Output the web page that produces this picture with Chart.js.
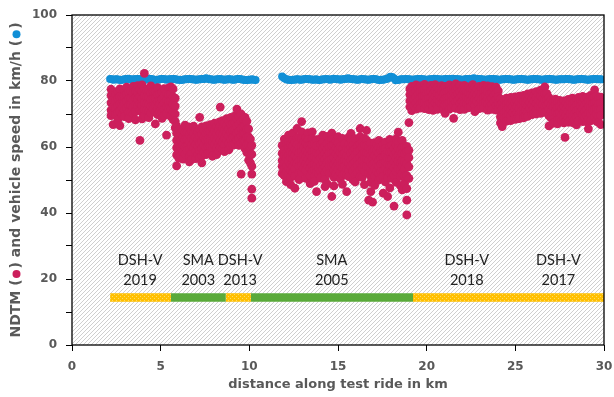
<!DOCTYPE html>
<html>
<head>
<meta charset="utf-8">
<script src="https://cdn.jsdelivr.net/npm/chart.js@4.4.0/dist/chart.umd.min.js"></script>
<style>
  html, body { margin: 0; padding: 0; background: #fff; }
  #wrap { width: 614px; height: 397px; }
</style>
</head>
<body>
<div id="wrap"><canvas id="ndtmChart" width="614" height="397"></canvas></div>
<script>
// NDTM readings along the ride: each row is [km, values measured around that km]
const ndtm2019 = [
    [2.20, 77.5, 75.6, 73.4, 71.2, 69.5], [2.32, 76.4, 74.3, 72.1, 70.2, 66.8], [2.45, 76.0, 73.8, 71.6, 69.8],
    [2.58, 76.9, 74.7, 72.5, 70.4, 68.2], [2.70, 77.6, 75.2, 73.0, 70.9, 66.5], [2.83, 75.2, 73.0, 71.9, 69.7],
    [2.95, 77.3, 75.4, 73.3, 71.1, 69.2], [3.08, 78.1, 76.0, 73.9, 71.8], [3.20, 76.7, 74.6, 72.6, 70.5, 68.6],
    [3.33, 76.9, 74.7, 72.6, 70.4], [3.45, 78.4, 76.3, 74.2, 72.0, 70.1], [3.58, 77.0, 74.9, 72.8, 70.7, 68.2],
    [3.70, 78.6, 76.5, 74.4, 72.3], [3.83, 77.4, 75.3, 73.2, 71.0, 62.0], [3.95, 78.8, 76.8, 74.7, 72.6, 70.6, 68.5],
    [4.08, 82.3, 77.7, 75.5, 73.4, 71.3, 69.4], [4.20, 77.3, 75.2, 73.1, 71.0], [4.33, 77.2, 75.0, 72.9, 70.8, 68.9],
    [4.45, 78.5, 76.4, 74.3, 72.2, 70.3], [4.58, 76.8, 74.6, 72.5, 71.4], [4.70, 76.9, 74.8, 72.7, 70.6, 67.0],
    [4.83, 78.0, 75.9, 73.8, 71.7, 69.8], [4.95, 76.1, 74.0, 72.9, 70.8], [5.08, 76.6, 74.5, 72.4, 70.5, 68.7],
    [5.20, 77.7, 75.5, 73.4, 71.3, 69.5], [5.33, 76.4, 74.3, 72.2, 70.2, 63.6], [5.45, 77.9, 75.8, 73.7, 71.6],
    [5.58, 78.2, 76.0, 73.8, 71.5, 69.2], [5.70, 77.6, 75.2, 72.9, 70.6, 68.3], [5.82, 74.8, 72.4, 70.0, 67.8, 65.8]
];
const ndtm2003 = [
    [5.90, 66.4, 64.2, 62.0, 59.8, 57.6, 54.3], [6.02, 65.3, 63.1, 60.9, 58.7, 56.6], [6.14, 64.2, 62.0, 59.8, 57.4],
    [6.26, 65.0, 62.8, 60.6, 58.4, 56.3], [6.38, 66.6, 64.4, 62.2, 60.0, 57.9], [6.50, 64.5, 62.3, 60.1, 58.9],
    [6.62, 66.0, 63.8, 61.6, 59.4, 57.2, 55.5], [6.74, 64.8, 62.6, 60.4, 58.2, 56.2], [6.86, 66.3, 64.1, 61.9, 59.7],
    [6.98, 65.2, 63.0, 60.8, 58.6, 56.5], [7.10, 64.5, 62.3, 60.1, 57.8], [7.20, 69.0, 65.4, 63.2, 61.0, 58.8, 56.7],
    [7.32, 66.1, 63.9, 61.7, 59.5, 57.3, 55.2], [7.44, 65.0, 62.8, 60.6, 58.4], [7.56, 66.4, 64.2, 62.0, 59.8, 57.7],
    [7.68, 64.6, 62.4, 60.2, 58.0], [7.80, 66.8, 64.6, 62.4, 60.2, 58.0], [7.92, 65.9, 63.7, 61.5, 59.3, 57.2],
    [8.04, 67.2, 65.0, 62.8, 60.6], [8.16, 66.3, 64.1, 61.9, 59.7, 57.7], [8.28, 67.5, 65.3, 63.1, 60.9, 58.8],
    [8.36, 72.1, 66.4, 64.2, 62.0, 59.8]
];
const ndtm2013 = [
    [8.48, 68.0, 65.8, 63.6, 61.4, 59.3], [8.60, 67.2, 65.0, 62.8, 60.6, 58.6], [8.72, 68.6, 66.4, 64.2, 62.0],
    [8.84, 67.7, 65.5, 63.3, 61.1, 59.1], [8.96, 69.0, 66.8, 64.6, 62.4, 60.3], [9.08, 67.2, 65.0, 62.8, 60.6],
    [9.20, 69.5, 67.3, 65.1, 62.9, 60.8], [9.30, 71.5, 68.6, 66.4, 64.2, 62.0], [9.42, 69.2, 67.0, 64.8, 62.6, 60.5],
    [9.54, 70.0, 67.8, 65.6, 63.4, 61.3, 51.8], [9.66, 68.4, 66.2, 64.0, 61.8], [9.76, 69.0, 66.6, 64.2, 61.8, 59.5],
    [9.86, 67.8, 65.4, 63.0, 60.6, 58.3], [9.96, 65.5, 63.1, 60.7, 58.3, 56.0], [10.06, 62.4, 60.0, 57.6, 55.2],
    [10.14, 60.5, 57.8, 54.2, 51.8, 47.2, 44.5]
];
const ndtm2005 = [
    [11.85, 60.5, 58.1, 55.9, 54.2, 52.0], [11.97, 62.4, 59.0, 57.3, 55.0, 53.2, 51.3],
    [12.09, 61.2, 58.2, 56.6, 54.3, 52.5, 49.5], [12.21, 63.6, 61.4, 59.7, 57.5, 55.8, 53.5, 51.7],
    [12.33, 60.9, 58.6, 56.9, 54.7, 52.9, 50.8, 48.6], [12.45, 64.2, 62.0, 60.3, 58.1, 56.4, 54.1, 52.3],
    [12.57, 61.5, 59.2, 57.4, 55.2, 53.4, 51.2, 47.5], [12.69, 65.6, 62.7, 60.6, 58.8, 56.5, 54.8],
    [12.81, 63.0, 59.9, 58.2, 55.9, 54.1, 52.0, 50.1], [12.95, 67.7, 64.6, 62.5, 60.3, 58.5, 56.3, 54.5, 52.3],
    [13.07, 61.6, 59.8, 57.6, 55.8, 53.6], [13.19, 62.9, 61.0, 58.8, 57.0, 54.8, 53.0, 50.5],
    [13.31, 64.3, 62.2, 60.4, 58.2, 56.4, 54.2], [13.43, 60.5, 59.3, 57.5, 55.3, 53.5, 51.3, 48.9],
    [13.55, 64.6, 62.5, 60.7, 58.5, 56.7, 54.5, 52.7], [13.67, 61.1, 58.9, 57.1, 54.9, 53.1, 51.0, 49.6],
    [13.79, 62.2, 60.3, 58.1, 56.3, 54.1, 52.3, 46.5], [13.91, 59.9, 57.7, 55.9, 53.7, 51.9],
    [14.03, 62.6, 60.7, 58.5, 56.7, 54.5, 52.7, 50.6], [14.15, 63.6, 61.3, 59.5, 57.3, 55.5, 53.3],
    [14.27, 60.2, 58.0, 56.2, 54.0, 52.2, 50.2, 48.0], [14.39, 63.2, 61.1, 59.3, 57.1, 55.3, 53.1, 48.8],
    [14.51, 62.1, 59.9, 58.1, 55.9, 54.1, 52.0], [14.65, 64.2, 62.2, 60.4, 58.2, 56.4, 54.2, 45.0],
    [14.77, 60.8, 58.6, 56.8, 54.6, 52.8, 50.8, 48.2], [14.89, 61.8, 59.7, 57.9, 55.7, 53.9, 51.7],
    [15.01, 63.1, 61.2, 59.0, 57.2, 55.0, 53.2, 51.1], [15.13, 60.2, 58.4, 56.2, 54.4, 52.2, 50.3],
    [15.25, 62.6, 59.4, 57.6, 55.4, 53.6, 51.5, 48.7], [15.37, 61.0, 58.1, 55.9, 54.1, 51.9],
    [15.49, 59.5, 57.3, 55.5, 53.3, 51.5, 46.5], [15.61, 63.0, 60.9, 59.1, 56.9, 55.1, 52.9, 51.0],
    [15.73, 64.1, 62.2, 60.0, 58.2, 56.0, 54.2], [15.85, 60.6, 58.8, 56.6, 54.8, 52.6, 50.0],
    [15.97, 62.5, 59.4, 57.6, 55.4, 53.6, 51.5, 49.4], [16.09, 60.3, 58.5, 56.3, 54.5, 52.3],
    [16.25, 65.6, 63.1, 60.9, 59.1, 56.9, 55.1, 52.9, 51.0], [16.37, 61.7, 59.9, 57.7, 55.9, 53.7, 50.8],
    [16.49, 62.6, 60.7, 58.5, 56.7, 54.5, 52.7, 48.6], [16.61, 65.0, 62.1, 60.3, 58.1, 56.3, 54.1],
    [16.73, 60.0, 57.8, 56.0, 53.8, 52.0, 43.9], [16.85, 61.2, 59.1, 57.3, 55.1, 53.3, 51.1, 49.3, 46.5],
    [16.95, 58.6, 56.4, 54.6, 52.4, 50.6, 43.3], [17.07, 61.3, 59.2, 57.4, 55.2, 53.4, 51.2, 48.4],
    [17.19, 60.8, 58.9, 56.7, 54.9, 52.7], [17.31, 62.0, 59.9, 58.1, 55.9, 54.1, 51.9, 50.0],
    [17.43, 59.6, 58.8, 56.6, 54.8, 52.6, 50.5], [17.55, 60.9, 59.0, 56.8, 55.0, 52.8, 51.0, 46.0],
    [17.67, 61.5, 59.4, 57.6, 55.4, 53.6, 49.4], [17.80, 58.7, 56.5, 54.7, 52.5, 50.7, 45.0],
    [17.92, 62.3, 60.2, 58.4, 56.2, 54.4, 52.2, 47.6], [18.04, 60.4, 58.5, 56.3, 54.5, 52.3, 50.5],
    [18.16, 59.5, 57.7, 55.5, 53.7, 51.5, 42.1], [18.28, 62.5, 60.6, 58.4, 56.6, 54.4, 52.6, 49.3],
    [18.40, 64.5, 61.4, 59.6, 57.4, 55.6, 53.4], [18.52, 59.1, 56.9, 55.1, 52.9, 51.1, 48.3],
    [18.62, 62.0, 59.9, 58.1, 55.9, 54.1, 51.9, 47.0], [18.75, 60.1, 57.9, 55.6, 53.4, 51.2, 49.0],
    [18.88, 60.2, 58.6, 55.0, 51.3, 47.4, 43.9, 39.4], [19.00, 67.4, 59.0, 56.8, 54.0, 50.5]
];
const ndtm2018 = [
    [19.05, 77.6, 75.9, 74.0, 72.2], [19.16, 78.4, 76.6, 74.7, 72.9, 71.0], [19.28, 76.2, 74.4, 72.5],
    [19.40, 78.8, 77.0, 75.1, 73.3, 71.5], [19.52, 77.9, 76.1, 74.2, 72.4], [19.64, 78.5, 76.7, 74.8, 73.0, 71.8],
    [19.76, 77.3, 75.5, 73.6], [19.88, 79.0, 77.2, 75.3, 73.5, 71.6], [20.00, 78.1, 76.3, 74.4, 72.6],
    [20.12, 76.6, 74.8, 72.9, 71.3], [20.24, 78.7, 76.9, 75.0, 73.2], [20.36, 77.8, 76.0, 74.1, 72.3, 71.1],
    [20.48, 78.9, 77.1, 75.2, 73.4], [20.60, 78.0, 76.2, 74.3, 72.5, 71.4], [20.72, 77.4, 75.6, 73.7],
    [20.84, 78.6, 76.8, 74.9, 73.1], [20.96, 77.9, 76.1, 74.2, 72.4, 71.2], [21.04, 78.4, 76.5, 74.6, 72.8, 70.2],
    [21.16, 76.7, 74.9, 73.0], [21.28, 78.8, 77.0, 75.1, 73.3, 71.5], [21.40, 77.5, 75.7, 73.8, 72.0],
    [21.52, 78.3, 76.5, 74.6, 72.8, 68.7], [21.64, 79.1, 77.3, 75.4, 73.6, 71.7], [21.76, 77.9, 76.1, 74.2],
    [21.88, 78.6, 76.8, 74.9, 73.1, 71.3], [22.00, 77.4, 75.6, 73.7, 71.9], [22.12, 78.7, 76.9, 75.0, 73.2, 71.4],
    [22.24, 76.8, 75.0, 73.1], [22.36, 78.2, 76.4, 74.5, 72.7, 71.9], [22.48, 77.6, 75.8, 73.9, 72.1],
    [22.60, 78.9, 77.1, 75.2, 73.4], [22.72, 78.1, 76.3, 74.4, 72.6, 70.7], [22.84, 77.5, 75.7, 73.8],
    [22.96, 78.4, 76.6, 74.7, 72.9, 71.6], [23.08, 77.9, 76.1, 74.2, 72.4], [23.20, 78.7, 76.9, 75.0, 73.2, 71.8],
    [23.32, 77.2, 75.4, 73.5], [23.44, 78.5, 76.7, 74.8, 73.0, 71.2], [23.56, 77.8, 76.0, 74.1, 72.3],
    [23.68, 78.3, 76.5, 74.6, 72.8, 71.4], [23.80, 77.6, 75.8, 73.9], [23.92, 78.1, 76.3, 74.4, 72.6, 71.2],
    [24.04, 77.0, 75.2, 73.3, 71.5]
];
const ndtm2017 = [
    [24.16, 74.6, 72.8, 70.9, 69.1, 67.3], [24.26, 73.4, 71.6, 69.7, 67.9, 66.2], [24.38, 74.2, 72.4, 70.5, 68.7],
    [24.50, 74.8, 73.0, 71.1, 69.3, 67.8], [24.62, 73.7, 71.9, 70.0, 68.2], [24.74, 75.0, 73.2, 71.3, 69.5, 68.0],
    [24.86, 74.1, 72.3, 70.4], [24.98, 75.2, 73.4, 71.5, 69.7, 68.4], [25.10, 74.0, 72.2, 70.3, 68.5],
    [25.22, 75.4, 73.6, 71.7, 69.9, 68.6], [25.34, 74.5, 72.7, 70.8], [25.46, 75.6, 73.8, 71.9, 70.1, 68.8],
    [25.58, 74.8, 73.0, 71.1, 69.3], [25.70, 76.1, 74.3, 72.4, 70.6, 69.3], [25.82, 75.3, 73.5, 71.6],
    [25.94, 76.4, 74.6, 72.7, 70.9, 69.8], [26.06, 75.6, 73.8, 71.9, 70.1], [26.18, 76.8, 75.0, 73.1, 71.3, 70.0],
    [26.30, 76.0, 74.2, 72.3], [26.42, 77.2, 75.4, 73.5, 71.7, 70.2], [26.54, 76.5, 74.7, 72.8, 71.0],
    [26.66, 78.2, 76.1, 74.2, 72.3, 70.5], [26.78, 76.2, 74.4, 72.5, 70.7], [26.90, 75.0, 73.2, 71.3, 69.4, 66.4],
    [27.02, 74.3, 72.5, 70.6, 68.8], [27.14, 73.9, 72.1, 70.2, 68.4, 67.2], [27.26, 74.5, 72.7, 70.8],
    [27.38, 73.6, 71.8, 69.9, 68.1, 67.0], [27.50, 74.1, 72.3, 70.4, 68.6], [27.62, 73.4, 71.6, 69.7, 67.9],
    [27.74, 74.0, 72.2, 70.3, 68.5, 67.3], [27.80, 62.9], [27.86, 73.3, 71.5, 69.6, 67.8],
    [27.98, 74.4, 72.6, 70.7, 68.9, 67.5], [28.10, 73.8, 72.0, 70.1], [28.22, 74.8, 73.0, 71.1, 69.3, 67.4],
    [28.34, 73.7, 71.9, 70.0, 68.2], [28.45, 74.6, 72.8, 70.9, 69.1, 66.7], [28.56, 75.0, 73.2, 71.3, 69.5, 67.9],
    [28.68, 74.2, 72.4, 70.5], [28.80, 75.3, 73.5, 71.6, 69.8, 67.7], [28.92, 74.5, 72.7, 70.8, 69.0],
    [29.04, 75.1, 73.3, 71.4, 69.6, 67.6], [29.12, 74.0, 72.2, 70.3, 68.5, 65.5], [29.24, 75.6, 73.8, 71.9, 70.1, 67.9],
    [29.36, 74.9, 73.1, 71.2], [29.47, 77.3, 75.2, 73.3, 71.4, 69.2], [29.58, 75.4, 73.6, 71.7, 69.9, 67.8],
    [29.70, 74.8, 73.0, 71.1, 69.3, 67.4], [29.82, 75.1, 73.3, 71.4, 69.6, 66.8]
];

// vehicle speed in km/h: [km, speed]
const speedFirstLeg = [
    [2.15, 80.6], [2.25, 80.5], [2.35, 80.4], [2.45, 80.5], [2.55, 80.5], [2.65, 80.4], [2.75, 80.3],
    [2.85, 80.4], [2.95, 80.5], [3.05, 80.6], [3.15, 80.7], [3.25, 80.6], [3.35, 80.4], [3.45, 80.5],
    [3.55, 80.5], [3.65, 80.6], [3.75, 80.6], [3.85, 80.5], [3.95, 80.5], [4.05, 80.4], [4.15, 80.4],
    [4.25, 80.5], [4.35, 80.7], [4.45, 80.6], [4.55, 80.5], [4.65, 80.4], [4.75, 80.3], [4.85, 80.4],
    [4.95, 80.5], [5.05, 80.6], [5.15, 80.6], [5.25, 80.5], [5.35, 80.4], [5.45, 80.5], [5.55, 80.5],
    [5.65, 80.6], [5.75, 80.6], [5.85, 80.5], [5.95, 80.4], [6.05, 80.4], [6.15, 80.3], [6.25, 80.4],
    [6.35, 80.5], [6.45, 80.5], [6.55, 80.6], [6.65, 80.6], [6.75, 80.5], [6.85, 80.5], [6.95, 80.4],
    [7.05, 80.4], [7.15, 80.5], [7.25, 80.5], [7.35, 80.6], [7.45, 80.6], [7.55, 80.8], [7.65, 80.7],
    [7.75, 80.5], [7.85, 80.5], [7.95, 80.4], [8.05, 80.4], [8.15, 80.5], [8.25, 80.5], [8.35, 80.6],
    [8.45, 80.5], [8.55, 80.4], [8.65, 80.4], [8.75, 80.5], [8.85, 80.5], [8.95, 80.5], [9.05, 80.4],
    [9.15, 80.4], [9.25, 80.5], [9.35, 80.6], [9.45, 80.6], [9.55, 80.5], [9.65, 80.4], [9.75, 80.3],
    [9.85, 80.3], [9.95, 80.4], [10.05, 80.4], [10.15, 80.5], [10.25, 80.4], [10.35, 80.3]
];
const speedSecondLeg = [
    [11.85, 81.4], [11.95, 80.9], [12.05, 80.6], [12.15, 80.4], [12.25, 80.4], [12.35, 80.3], [12.45, 80.4],
    [12.55, 80.4], [12.65, 80.5], [12.75, 80.5], [12.85, 80.4], [12.95, 80.4], [13.05, 80.5], [13.15, 80.6],
    [13.25, 80.6], [13.35, 80.5], [13.45, 80.5], [13.55, 80.4], [13.65, 80.4], [13.75, 80.5], [13.85, 80.4],
    [13.95, 80.3], [14.05, 80.4], [14.15, 80.5], [14.25, 80.5], [14.35, 80.6], [14.45, 80.5], [14.55, 80.4],
    [14.65, 80.5], [14.75, 80.7], [14.85, 80.6], [14.95, 80.5], [15.05, 80.5], [15.15, 80.4], [15.25, 80.5],
    [15.35, 80.6], [15.45, 80.6], [15.55, 80.8], [15.65, 80.7], [15.75, 80.6], [15.85, 80.5], [15.95, 80.5],
    [16.05, 80.4], [16.15, 80.4], [16.25, 80.5], [16.35, 80.6], [16.45, 80.5], [16.55, 80.5], [16.65, 80.4],
    [16.75, 80.4], [16.85, 80.5], [16.95, 80.6], [17.05, 80.6], [17.15, 80.5], [17.25, 80.4], [17.35, 80.3],
    [17.45, 80.4], [17.55, 80.4], [17.65, 80.5], [17.75, 80.6], [17.85, 80.9], [17.95, 81.3], [18.05, 81.2],
    [18.15, 80.8], [18.25, 80.2], [18.35, 80.3], [18.45, 80.4], [18.55, 80.5], [18.65, 80.5], [18.75, 80.5],
    [18.85, 80.6], [18.95, 80.5], [19.05, 80.5], [19.15, 80.4], [19.25, 80.4], [19.35, 80.5], [19.45, 80.5],
    [19.55, 80.6], [19.65, 80.6], [19.75, 80.5], [19.85, 80.5], [19.95, 80.4], [20.05, 80.4], [20.15, 80.5],
    [20.25, 80.5], [20.35, 80.6], [20.45, 80.7], [20.55, 80.6], [20.65, 80.5], [20.75, 80.5], [20.85, 80.4],
    [20.95, 80.5], [21.05, 80.6], [21.15, 80.6], [21.25, 80.5], [21.35, 80.6], [21.45, 80.7], [21.55, 80.6],
    [21.65, 80.6], [21.75, 80.5], [21.85, 80.5], [21.95, 80.4], [22.05, 80.4], [22.15, 80.5], [22.25, 80.6],
    [22.35, 80.6], [22.45, 80.5], [22.55, 80.6], [22.65, 80.8], [22.75, 80.7], [22.85, 80.6], [22.95, 80.6],
    [23.05, 80.5], [23.15, 80.5], [23.25, 80.4], [23.35, 80.4], [23.45, 80.5], [23.55, 80.5], [23.65, 80.6],
    [23.75, 80.6], [23.85, 80.5], [23.95, 80.5], [24.05, 80.4], [24.15, 80.4], [24.25, 80.5], [24.35, 80.5],
    [24.45, 80.6], [24.55, 80.6], [24.65, 80.5], [24.75, 80.5], [24.85, 80.4], [24.95, 80.4], [25.05, 80.5],
    [25.15, 80.5], [25.25, 80.6], [25.35, 80.6], [25.45, 80.5], [25.55, 80.5], [25.65, 80.4], [25.75, 80.4],
    [25.85, 80.5], [25.95, 80.5], [26.05, 80.6], [26.15, 80.6], [26.25, 80.5], [26.35, 80.5], [26.45, 80.4],
    [26.55, 80.4], [26.65, 80.5], [26.75, 80.5], [26.85, 80.6], [26.95, 80.6], [27.05, 80.5], [27.15, 80.5],
    [27.25, 80.4], [27.35, 80.4], [27.45, 80.5], [27.55, 80.5], [27.65, 80.5], [27.75, 80.5], [27.85, 80.6],
    [27.95, 80.6], [28.05, 80.5], [28.15, 80.5], [28.25, 80.4], [28.35, 80.4], [28.45, 80.5], [28.55, 80.5],
    [28.65, 80.6], [28.75, 80.6], [28.85, 80.5], [28.95, 80.5], [29.05, 80.4], [29.15, 80.4], [29.25, 80.5],
    [29.35, 80.5], [29.45, 80.6], [29.55, 80.6], [29.65, 80.5], [29.75, 80.5], [29.85, 80.5]
];

// road surface sections (km from / to, surface type)
const sectionFrom = [2.15, 5.58, 8.67, 10.09, 19.23];
const sectionTo   = [5.58, 8.67, 10.09, 19.23, 30.0];
const sectionType = ['DSH-V', 'SMA', 'DSH-V', 'SMA', 'DSH-V'];
const sectionBarLevel = 14.4;

// section captions
const captionKm   = [3.84, 7.12, 9.48, 14.65, 22.26, 27.43];
const captionName = ['DSH-V', 'SMA', 'DSH-V', 'SMA', 'DSH-V', 'DSH-V'];
const captionYear = ['2019', '2003', '2013', '2005', '2018', '2017'];
const captionLevel = 22.7;

const xTitle = 'distance along test ride in km';
// null marks where a coloured dot goes
const yTitleParts = ['NDTM (', null, ') and vehicle speed in km/h (', null, ')'];

const MAGENTA = '#cc1f5c';
const BLUE = '#118fd6';
const GREEN = '#5aaa3a';
const AXIS_GREY = '#595959';

const toPoints = rows => rows.flatMap(([km, ...vals]) => vals.map(v => ({ x: km, y: v })));
const pairs = rows => rows.map(([km, v]) => ({ x: km, y: v }));

const canvas = document.getElementById('ndtmChart');
const ctx = canvas.getContext('2d');

// grey diagonal hatching for the plot background
function makeHatch() {
    const c = document.createElement('canvas');
    c.width = 4; c.height = 4;
    const g = c.getContext('2d');
    g.fillStyle = '#ffffff';
    g.fillRect(0, 0, 4, 4);
    g.strokeStyle = '#cfcfcf';
    g.lineWidth = 1;
    g.beginPath();
    g.moveTo(-1, 5); g.lineTo(5, -1);
    g.moveTo(-3, 3); g.lineTo(3, -3);
    g.moveTo(1, 7); g.lineTo(7, 1);
    g.stroke();
    return ctx.createPattern(c, 'repeat');
}

// orange with faint light dots for DSH-V sections
function makeDotted() {
    const c = document.createElement('canvas');
    c.width = 4; c.height = 4;
    const g = c.getContext('2d');
    g.fillStyle = '#ffc000';
    g.fillRect(0, 0, 4, 4);
    g.fillStyle = '#ffd966';
    g.fillRect(0, 0, 1, 1);
    g.fillRect(2, 2, 1, 1);
    return ctx.createPattern(c, 'repeat');
}

const hatch = makeHatch();
const dotted = makeDotted();

const ndtmPoints = [ndtm2019, ndtm2003, ndtm2013, ndtm2005, ndtm2018, ndtm2017].flatMap(toPoints);
const speedPoints = pairs(speedFirstLeg).concat([{ x: null, y: null }], pairs(speedSecondLeg));

const sectionDatasets = sectionFrom.map((from, i) => ({
    type: 'line',
    label: sectionType[i],
    data: [{ x: from, y: sectionBarLevel }, { x: sectionTo[i], y: sectionBarLevel }],
    borderColor: sectionType[i] === 'SMA' ? GREEN : dotted,
    borderWidth: 8.5,
    borderCapStyle: 'butt',
    pointRadius: 0,
    showLine: true,
    fill: false
}));

const plotDecor = {
    id: 'plotDecor',
    beforeDatasetsDraw(chart) {
        const { ctx, chartArea: a } = chart;
        ctx.save();
        ctx.fillStyle = hatch;
        ctx.fillRect(a.left, a.top, a.width, a.height);
        ctx.restore();
    },
    afterDatasetsDraw(chart) {
        const { ctx, chartArea: a, scales } = chart;
        ctx.save();
        // section captions
        ctx.fillStyle = '#222';
        ctx.font = '14.5px Lato';
        ctx.textAlign = 'center';
        ctx.textBaseline = 'middle';
        captionKm.forEach((km, i) => {
            const x = scales.x.getPixelForValue(km);
            const y = scales.y.getPixelForValue(captionLevel);
            ctx.fillText(captionName[i], x, y - 10);
            ctx.fillText(captionYear[i], x, y + 10);
        });
        // frame
        ctx.strokeStyle = '#000';
        ctx.lineWidth = 1.3;
        ctx.strokeRect(a.left, a.top, a.width, a.height);

        // axis titles
        ctx.fillStyle = AXIS_GREY;
        ctx.font = 'bold 13px "DejaVu Sans"';
        ctx.fillText(xTitle, (a.left + a.right) / 2, 385);

        ctx.font = 'bold 14px "DejaVu Sans"';
        ctx.translate(16, (a.top + a.bottom) / 2);
        ctx.rotate(-Math.PI / 2);
        ctx.textAlign = 'left';
        const dotW = 11;
        const widths = yTitleParts.map(t => (t === null ? dotW : ctx.measureText(t).width));
        let x = -widths.reduce((s, w) => s + w, 0) / 2;
        const dotColors = [MAGENTA, BLUE];
        let dot = 0;
        yTitleParts.forEach((t, i) => {
            if (t === null) {
                ctx.fillStyle = dotColors[dot++];
                ctx.beginPath();
                ctx.arc(x + dotW / 2, 0.5, 4, 0, Math.PI * 2);
                ctx.fill();
            } else {
                ctx.fillStyle = AXIS_GREY;
                ctx.fillText(t, x, 0);
            }
            x += widths[i];
        });
        ctx.restore();
    }
};

const tickFont = { family: 'DejaVu Sans', weight: 'bold', size: 12 };

new Chart(ctx, {
    type: 'scatter',
    data: {
        datasets: [
            {
                label: 'NDTM',
                data: ndtmPoints,
                backgroundColor: MAGENTA,
                borderWidth: 0,
                pointRadius: 4.4
            },
            {
                label: 'vehicle speed',
                data: speedPoints,
                backgroundColor: BLUE,
                borderWidth: 0,
                pointRadius: 4
            },
            ...sectionDatasets
        ]
    },
    options: {
        responsive: false,
        animation: false,
        events: [],
        layout: { padding: { top: 15, right: 10, left: 0, bottom: 0 } },
        plugins: {
            legend: { display: false },
            tooltip: { enabled: false }
        },
        scales: {
            x: {
                type: 'linear',
                min: 0,
                max: 30,
                ticks: { stepSize: 5, color: AXIS_GREY, font: tickFont, padding: 9, maxRotation: 0 },
                grid: { drawOnChartArea: false, drawTicks: true, tickLength: 6, color: '#000' },
                border: { display: false },
                afterFit(scale) {
                    scale.height = 52;
                    // keep the last label from shrinking the plot area
                    scale.paddingLeft = 0;
                    scale.paddingRight = 0;
                }
            },
            y: {
                type: 'linear',
                min: 0,
                max: 100,
                ticks: {
                    stepSize: 10,
                    color: AXIS_GREY,
                    font: tickFont,
                    padding: 9,
                    callback: v => (v % 20 === 0 ? v : '')
                },
                grid: { drawOnChartArea: false, drawTicks: true, tickLength: 6, color: '#000' },
                border: { display: false },
                afterFit(scale) {
                    scale.width = 72;
                    scale.paddingTop = 0;
                    scale.paddingBottom = 0;
                }
            }
        }
    },
    plugins: [plotDecor]
});
</script>
</body>
</html>
